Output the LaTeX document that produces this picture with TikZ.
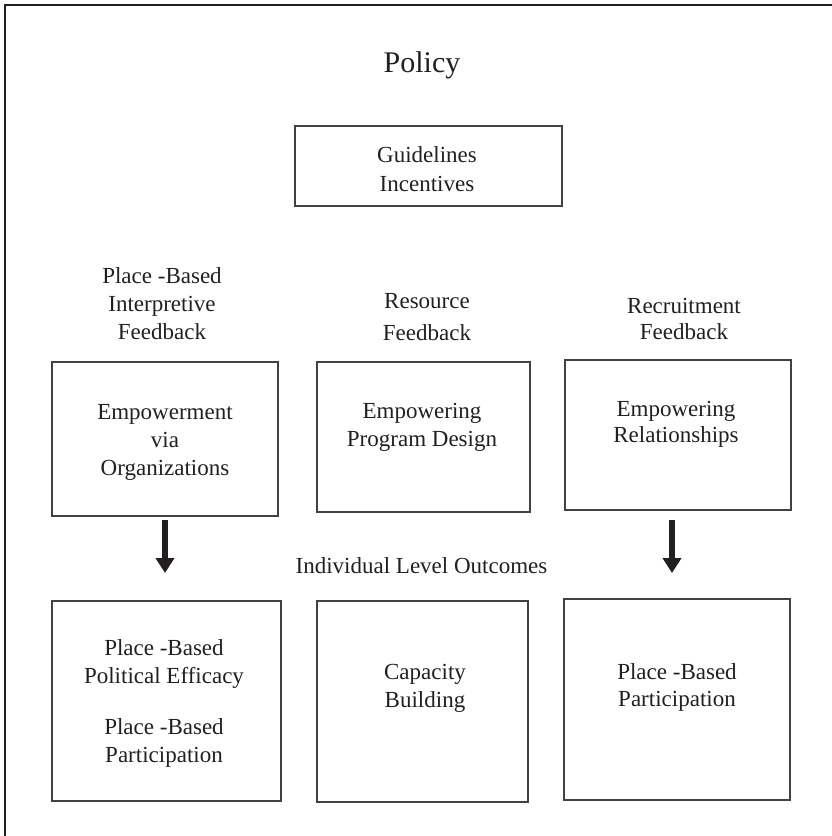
\documentclass[tikz,border=0pt]{standalone}
\usepackage{fontspec}
\setmainfont{Liberation Serif}
\usetikzlibrary{arrows.meta}
\definecolor{ink}{HTML}{231F20}
\begin{document}
\begin{tikzpicture}[x=1pt,y=-1pt,
  box/.style={draw=ink!85, line width=1.4pt, rectangle, inner sep=0pt, outer sep=0pt},
  txt/.style={align=center, text=ink, anchor=base, inner sep=0pt, font=\fontsize{23}{28}\selectfont},
  bigarrow/.style={-{Triangle[width=18pt,length=15pt]}, line width=6.5pt, draw=ink}]
\useasboundingbox (0,0) rectangle (831,836);
\draw[line width=2pt, ink] (5,900) -- (5,5) -- (900,5);

% boxes
\node[box, minimum width=267pt, minimum height=80pt] (gbox) at (428.5,166) {};
\node[box, minimum width=226pt, minimum height=154pt] (e1) at (165,439) {};
\node[box, minimum width=213pt, minimum height=150pt] (e2) at (423.5,437) {};
\node[box, minimum width=226pt, minimum height=150pt] (e3) at (678,435) {};
\node[box, minimum width=229pt, minimum height=200pt] (o1) at (166.5,701) {};
\node[box, minimum width=211pt, minimum height=201pt] (o2) at (422.5,701.5) {};
\node[box, minimum width=226pt, minimum height=201pt] (o3) at (677,699.5) {};

% texts (base anchor = baseline of the last line)
\node[txt, font=\fontsize{30}{36}\selectfont] (policy) at (422,72) {Policy};
\node[txt, font=\fontsize{23}{29}\selectfont] (guide) at (427,191) {Guidelines\\Incentives};
\node[txt] (h1) at (162,339) {Place -Based\\Interpretive\\Feedback};
\node[txt, font=\fontsize{23}{32}\selectfont] (h2) at (427,340) {Resource\\Feedback};
\node[txt, font=\fontsize{23}{26}\selectfont] (h3) at (684,339) {Recruitment\\Feedback};
\node[txt] (t1) at (165,475) {Empowerment\\via\\Organizations};
\node[txt] (t2) at (422,446) {Empowering\\Program Design};
\node[txt, font=\fontsize{23}{26}\selectfont] (t3) at (676,442) {Empowering\\Relationships};
\node[txt] (ind) at (421.5,573) {Individual Level Outcomes};
\node[txt, font=\fontsize{23}{28}\selectfont] (u1) at (164,762) {Place -Based\\Political Efficacy\\[23pt]Place -Based\\Participation};
\node[txt] (u2) at (425,707) {Capacity\\Building};
\node[txt, font=\fontsize{23}{27}\selectfont] (u3) at (677,706) {Place -Based\\Participation};

% arrows
\draw[bigarrow, shorten <=4pt, shorten >=28pt] (e1.south) -- (e1.south |- o1.north);
\draw[bigarrow, shorten <=10pt, shorten >=26pt] ([xshift=-6pt]e3.south) -- ([xshift=-6pt]e3.south |- o3.north);
\end{tikzpicture}
\end{document}
